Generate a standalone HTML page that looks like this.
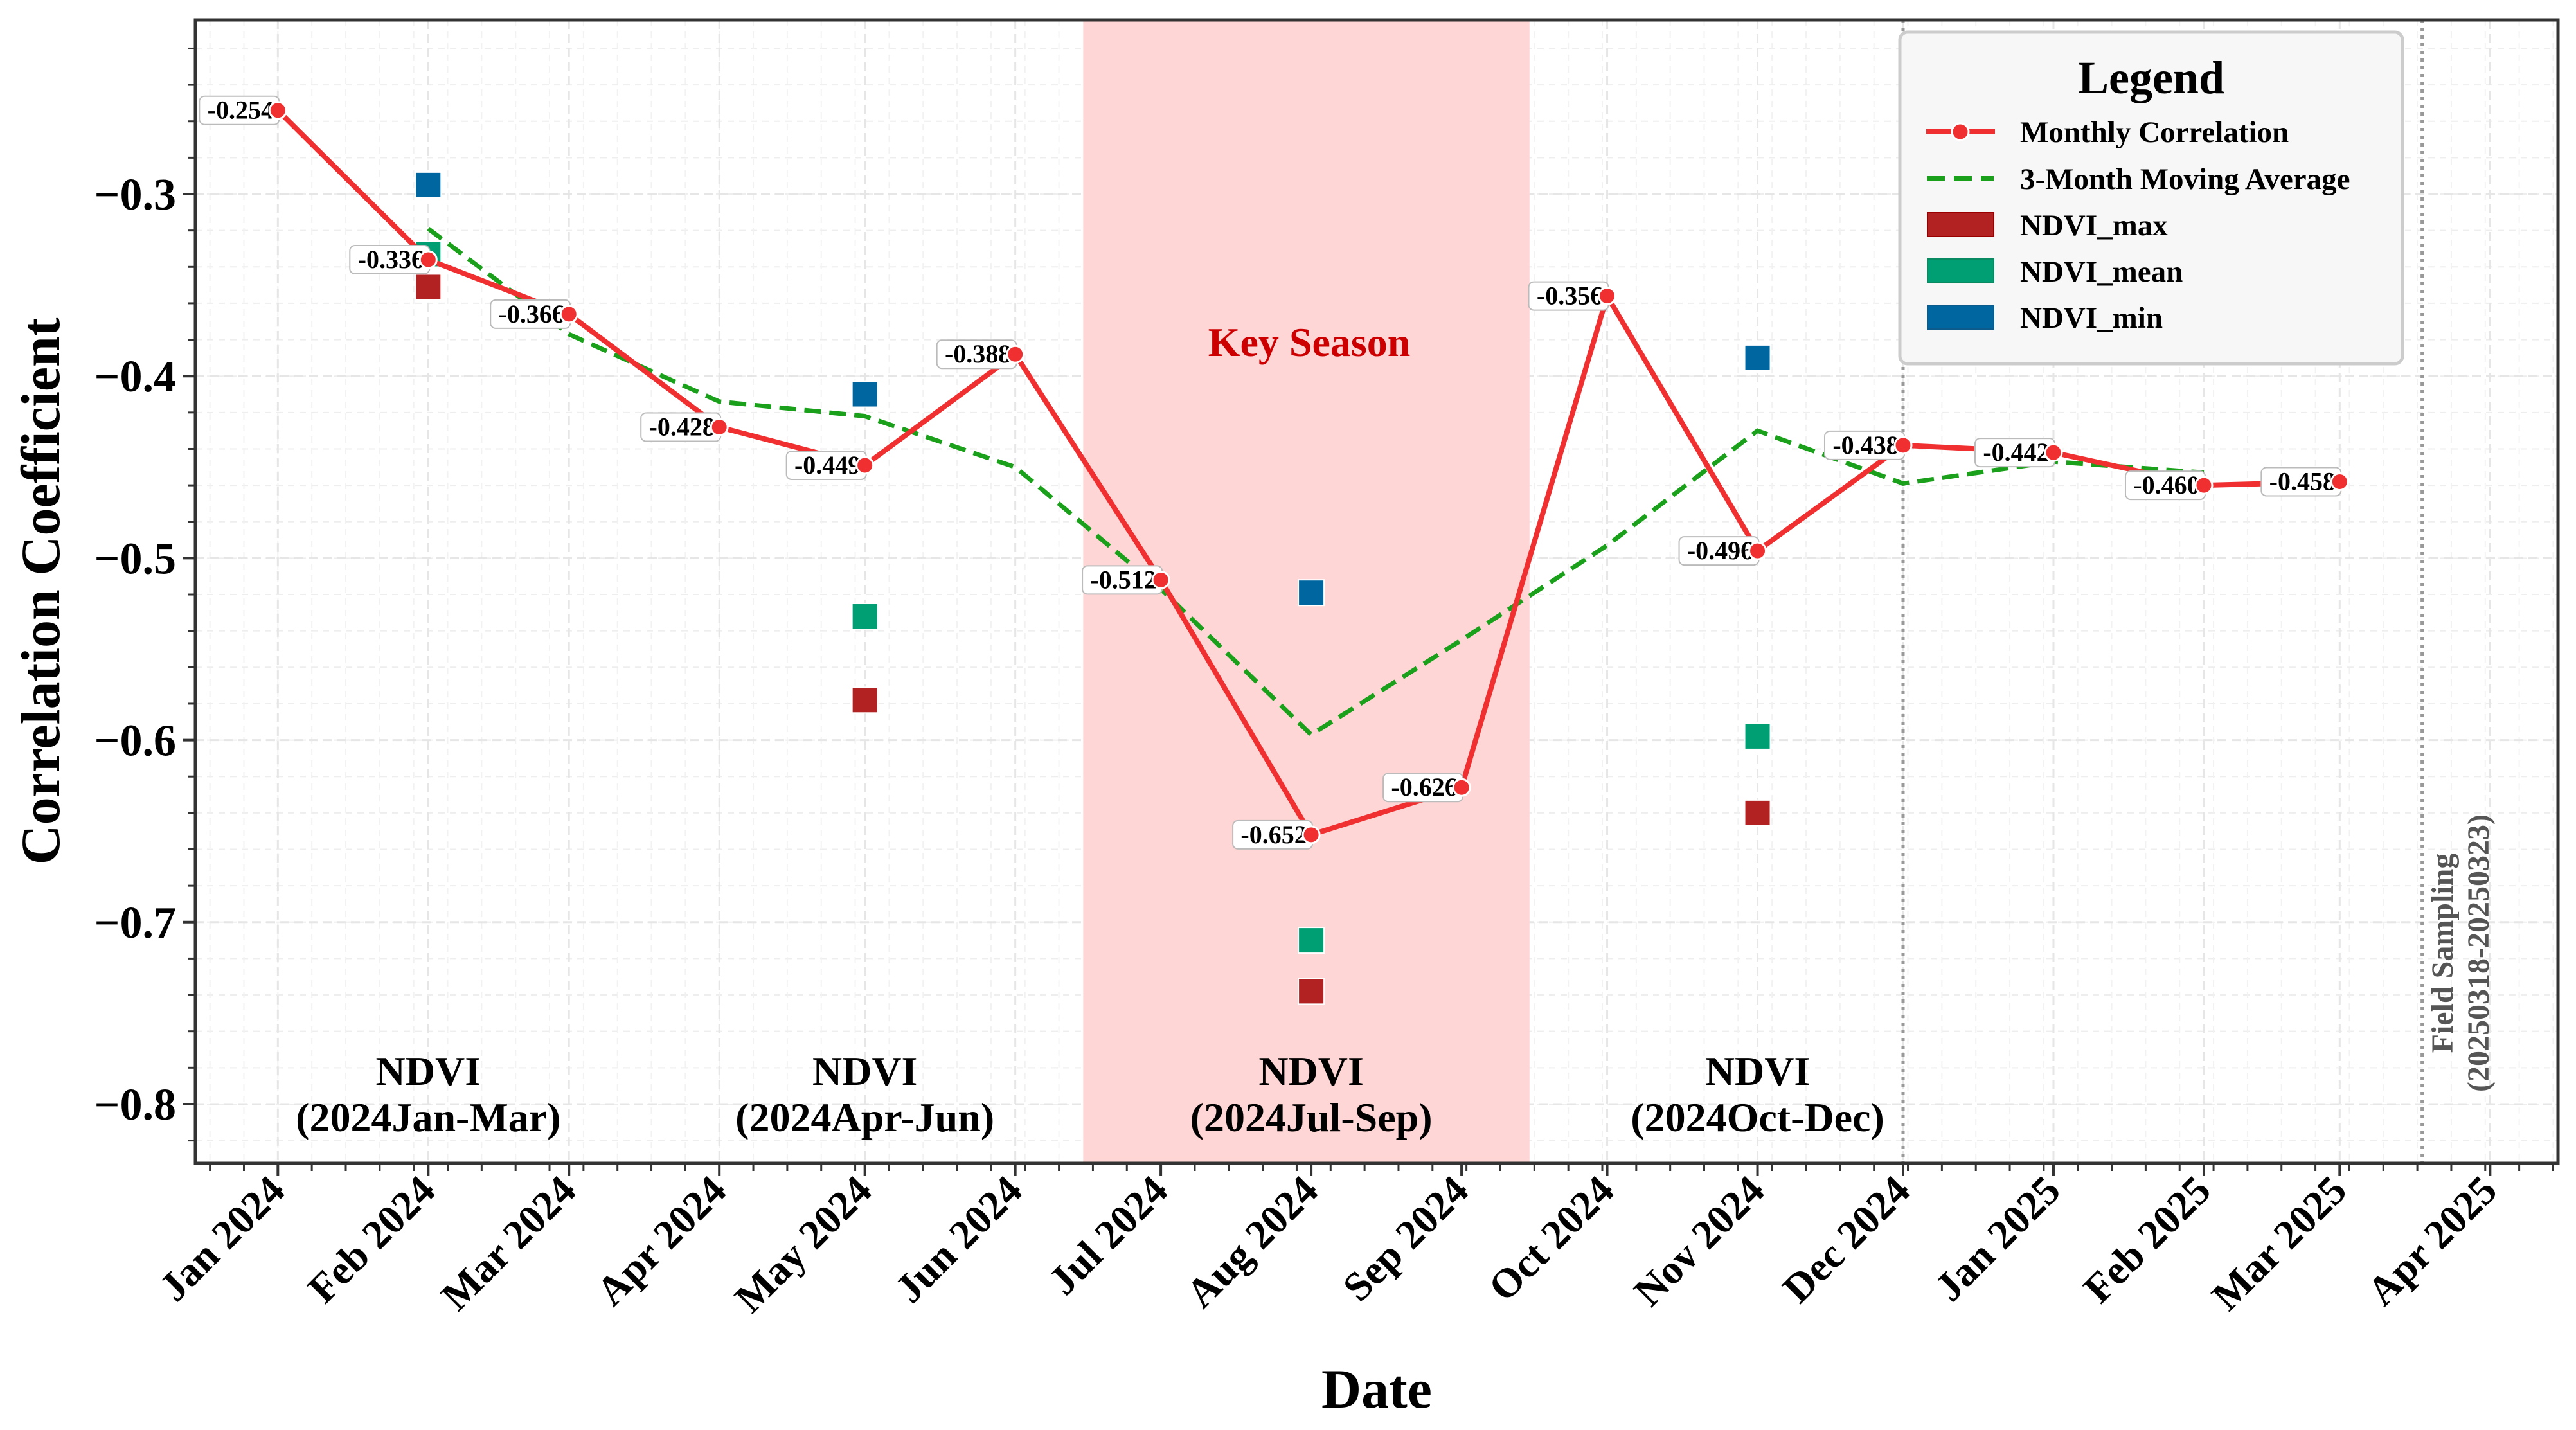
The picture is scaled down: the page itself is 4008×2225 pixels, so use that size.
<!DOCTYPE html>
<html><head><meta charset="utf-8"><style>html,body{margin:0;padding:0;background:#fff}svg{display:block;font-family:"Liberation Serif",serif;font-weight:bold}</style></head>
<body>
<svg id="chart" width="4008" height="2225" viewBox="0 0 4008 2225" xmlns="http://www.w3.org/2000/svg">
<rect width="4008" height="2225" fill="#fff"/>
<g id="grid"></g>
<rect id="band" fill="#ffd6d6"/>
<g id="marks"></g>
<rect x="304" y="31" width="3676" height="1779" fill="none" stroke="#333" stroke-width="5"/>
<g id="axes"></g>
<text transform="translate(92,920) rotate(-90)" text-anchor="middle" font-size="86">Correlation Coefficient</text>
<text x="2142" y="2190" text-anchor="middle" font-size="86">Date</text>
<text x="2037" y="554" text-anchor="middle" font-size="64" fill="#cc0000">Key Season</text>
<g fill="#555" font-size="48">
<text transform="translate(3816,1483) rotate(-90)" text-anchor="middle">Field Sampling</text>
<text transform="translate(3872,1483) rotate(-90)" text-anchor="middle">(20250318-20250323)</text>
</g>
<g>
<rect x="2956" y="50" width="782" height="516" rx="12" fill="#f7f7f7" stroke="#ccc" stroke-width="5"/>
<text x="3347" y="145" text-anchor="middle" font-size="72">Legend</text>
<g><line x1="2997" y1="205" x2="3104" y2="205" stroke="#f03030" stroke-width="8"/><circle cx="3050" cy="205" r="13" fill="#f03030" stroke="#fff" stroke-width="3"/><text x="3143" y="221" font-size="47">Monthly Correlation</text></g>
<g><line x1="2998" y1="278" x2="3102" y2="278" stroke="#1aa01a" stroke-width="8" stroke-dasharray="28 14"/><text x="3143" y="294" font-size="47">3-Month Moving Average</text></g>
<g><rect x="2999" y="331" width="103" height="37" fill="#b22222" stroke="#9a0000" stroke-width="2"/><text x="3143" y="366" font-size="47">NDVI_max</text></g>
<g><rect x="2999" y="403" width="103" height="37" fill="#009e73" stroke="#0a8a60" stroke-width="2"/><text x="3143" y="438" font-size="47">NDVI_mean</text></g>
<g><rect x="2999" y="475" width="103" height="37" fill="#0066a0" stroke="#0b5b8c" stroke-width="2"/><text x="3143" y="510" font-size="47">NDVI_min</text></g>
</g>
</svg>
<script>
const monthDates = ["2024-01-01","2024-02-01","2024-03-01","2024-04-01","2024-05-01","2024-06-01","2024-07-01","2024-08-01","2024-09-01","2024-10-01","2024-11-01","2024-12-01","2025-01-01","2025-02-01","2025-03-01"];
const monthlyCorr = [-0.254,-0.336,-0.366,-0.428,-0.449,-0.388,-0.512,-0.652,-0.626,-0.356,-0.496,-0.438,-0.442,-0.460,-0.458];
const corrLabels = ["-0.254","-0.336","-0.366","-0.428","-0.449","-0.388","-0.512","-0.652","-0.626","-0.356","-0.496","-0.438","-0.442","-0.460","-0.458"];
const maDates = ["2024-02-01","2024-03-01","2024-04-01","2024-05-01","2024-06-01","2024-07-01","2024-08-01","2024-09-01","2024-10-01","2024-11-01","2024-12-01","2025-01-01","2025-02-01"];
const movingAvg = [-0.319,-0.377,-0.414,-0.422,-0.450,-0.517,-0.597,-0.545,-0.493,-0.430,-0.459,-0.447,-0.453];
const ndviDates = ["2024-02-01","2024-05-01","2024-08-01","2024-11-01"];
const ndviMax = [-0.351,-0.578,-0.738,-0.640];
const ndviMean = [-0.333,-0.532,-0.710,-0.598];
const ndviMin = [-0.295,-0.410,-0.519,-0.390];
const quarterLabels = ["(2024Jan-Mar)","(2024Apr-Jun)","(2024Jul-Sep)","(2024Oct-Dec)"];
const yTicks = [-0.3,-0.4,-0.5,-0.6,-0.7,-0.8];
const yTickLabels = ["\u22120.3","\u22120.4","\u22120.5","\u22120.6","\u22120.7","\u22120.8"];
const xTickDates = ["2024-01-01","2024-02-01","2024-03-01","2024-04-01","2024-05-01","2024-06-01","2024-07-01","2024-08-01","2024-09-01","2024-10-01","2024-11-01","2024-12-01","2025-01-01","2025-02-01","2025-03-01","2025-04-01"];
const xTickLabels = ["Jan 2024","Feb 2024","Mar 2024","Apr 2024","May 2024","Jun 2024","Jul 2024","Aug 2024","Sep 2024","Oct 2024","Nov 2024","Dec 2024","Jan 2025","Feb 2025","Mar 2025","Apr 2025"];
const bandRange = ["2024-06-15","2024-09-15"];
const vLines = ["2024-12-01","2025-03-18"];

const NS="http://www.w3.org/2000/svg";
const L=304,R=3980,T=31,B=1810;
const t0=Date.parse("2023-12-15"),t1=Date.parse("2025-04-15");
const yTop=-0.2043,yBot=-0.8325;
function X(d){return L+(Date.parse(d)-t0)/(t1-t0)*(R-L);}
function Y(v){return T+(yTop-v)/(yTop-yBot)*(B-T);}
function el(tag,attrs,parent,txt){const e=document.createElementNS(NS,tag);for(const k in attrs)e.setAttribute(k,attrs[k]);if(txt!==undefined)e.textContent=txt;parent.appendChild(e);return e;}
const grid=document.getElementById('grid'),marks=document.getElementById('marks'),axes=document.getElementById('axes');

for(let v=-0.82;v<=-0.21;v+=0.02){const y=Y(v);
 const g=el('line',{x1:L,x2:R,y1:y,y2:y,stroke:'#eee','stroke-width':2,'stroke-dasharray':'10 8'},grid);
 
 el('line',{x1:L-12,x2:L,y1:y,y2:y,stroke:'#333','stroke-width':3},axes);}
for(let t=Date.parse("2023-12-18");t<t1;t+=7*86400000){const d=new Date(t).toISOString().slice(0,10);const x=X(d);
 el('line',{x1:x,x2:x,y1:T,y2:B,stroke:'#f2f2f2','stroke-width':2,'stroke-dasharray':'10 8'},grid);
 el('line',{x1:x,x2:x,y1:B,y2:B+12,stroke:'#333','stroke-width':3},axes);}
yTicks.forEach((v,i)=>{const y=Y(v);
 el('line',{x1:L,x2:R,y1:y,y2:y,stroke:'#e6e6e6','stroke-width':3,'stroke-dasharray':'14 8'},grid);
 el('line',{x1:L-20,x2:L,y1:y,y2:y,stroke:'#333','stroke-width':4},axes);
 const t=el('text',{x:L-30,y:y+24,'text-anchor':'end','font-size':70},axes,yTickLabels[i]);
 });
xTickDates.forEach((d,i)=>{const x=X(d);
 el('line',{x1:x,x2:x,y1:T,y2:B,stroke:'#e6e6e6','stroke-width':3,'stroke-dasharray':'14 8'},grid);
 el('line',{x1:x,x2:x,y1:B,y2:B+20,stroke:'#333','stroke-width':4},axes);
 const t=el('text',{transform:`translate(${x+14},${B+46}) rotate(-45)`,'text-anchor':'end','font-size':64},axes,xTickLabels[i]);
 });

const band=document.getElementById('band');
band.setAttribute('x',X(bandRange[0]));band.setAttribute('y',T);band.setAttribute('width',X(bandRange[1])-X(bandRange[0]));band.setAttribute('height',B-T);

vLines.forEach(d=>{const l=el('line',{x1:X(d),x2:X(d),y1:T,y2:B,stroke:'#999','stroke-width':5,'stroke-dasharray':'5 7'},marks);
 });

const ma=el('polyline',{points:maDates.map((d,i)=>X(d)+','+Y(movingAvg[i])).join(' '),fill:'none',stroke:'#1aa01a','stroke-width':7,'stroke-dasharray':'26 13'},marks);


[[ndviMax,'#b22222','ndvi-max-marker'],[ndviMean,'#009e73','ndvi-mean-marker'],[ndviMin,'#0066a0','ndvi-min-marker']].forEach(([arr,c,n])=>{
 arr.forEach((v,i)=>{const s=el('rect',{x:X(ndviDates[i])-20,y:Y(v)-20,width:40,height:40,fill:c,stroke:'#fff','stroke-width':2},marks);
 });});

ndviDates.forEach((d,i)=>{const x=X(d);
 const a=el('text',{x:x,y:1688,'text-anchor':'middle','font-size':64},marks,'NDVI');
 
 const b=el('text',{x:x,y:1760,'text-anchor':'middle','font-size':64},marks,quarterLabels[i]);
 });

const ml=el('polyline',{points:monthDates.map((d,i)=>X(d)+','+Y(monthlyCorr[i])).join(' '),fill:'none',stroke:'#f03030','stroke-width':8,'stroke-linejoin':'round'},marks);

monthDates.forEach((d,i)=>{const x=X(d),y=Y(monthlyCorr[i]);
 const bx=el('rect',{x:x-122,y:y-22,width:124,height:44,rx:8,fill:'#fff',stroke:'#bbb','stroke-width':2},marks);
 
 const t=el('text',{x:x-58,y:y+13,'text-anchor':'middle','font-size':40},marks,corrLabels[i]);
 
 const c=el('circle',{cx:x,cy:y,r:13,fill:'#f03030',stroke:'#fff','stroke-width':3},marks);
 });
</script>
</body></html>
